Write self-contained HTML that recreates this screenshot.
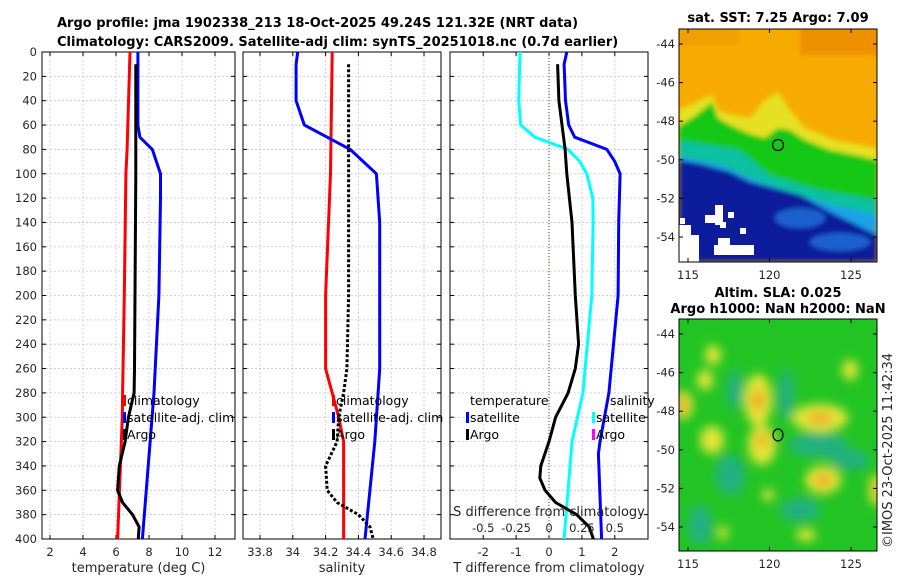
<!DOCTYPE html>
<html><head><meta charset="utf-8"><style>
html,body{margin:0;padding:0;background:#fff;}
svg{display:block;font-family:"DejaVu Sans","Liberation Sans",sans-serif;}
.tk{font-size:11.5px;fill:#262626;}
.ttl{font-size:13px;font-weight:bold;fill:#000;}
.lg{font-size:12.5px;fill:#000;}
.at{font-size:13px;fill:#262626;}
</style></head><body>
<svg id="fig" width="900" height="580" viewBox="0 0 900 580">
<g id="titles">
<text class="ttl" x="57" y="27">Argo profile: jma 1902338_213 18-Oct-2025 49.24S 121.32E (NRT data)</text>
<text class="ttl" x="57" y="46">Climatology: CARS2009. Satellite-adj clim: synTS_20251018.nc (0.7d earlier)</text>
</g>
<g id="panels"></g>
<defs>
<filter id="bl" x="-5%" y="-5%" width="110%" height="110%"><feGaussianBlur stdDeviation="2.5"/></filter>
<filter id="bl2" x="-20%" y="-20%" width="140%" height="140%"><feGaussianBlur stdDeviation="5"/></filter>
<clipPath id="c1"><rect x="679" y="29" width="198" height="233"/></clipPath>
<clipPath id="c2"><rect x="679" y="319" width="198" height="232"/></clipPath>
</defs>
<g id="sst-map">
<text class="ttl" x="778" y="22" text-anchor="middle">sat. SST: 7.25 Argo: 7.09</text>
<g clip-path="url(#c1)">
<rect x="679" y="29" width="198" height="233" fill="#f7ab00"/>
<g filter="url(#bl)">
<rect x="800" y="25" width="90" height="30" fill="#ee9000"/>
<rect x="679" y="25" width="60" height="20" fill="#f0a000"/>
<polygon points="679,110 700,100 712,95 720,112 735,115 750,118 765,100 778,92 790,110 805,128 835,140 877,148 877,262 679,262" fill="#e6e020"/>
<polygon points="679,126 695,116 712,102 718,118 732,126 750,134 765,138 778,128 790,130 805,140 830,150 860,156 877,160 877,262 679,262" fill="#18c818"/>
<polygon points="679,140 740,150 770,175 820,190 877,200 877,262 679,262" fill="#10c0a0"/>
<polygon points="679,156 720,165 760,182 830,205 877,215 877,262 679,262" fill="#1aa0e8"/>
<polygon points="679,160 700,164 730,172 750,182 800,195 830,212 877,235 877,262 679,262" fill="#0a1a9a"/>
<ellipse cx="800" cy="218" rx="25" ry="10" fill="#1e60d0"/>
<ellipse cx="840" cy="242" rx="30" ry="9" fill="#1e60d0"/>
</g>
<g fill="#fff">
<rect x="679" y="225" width="12" height="37"/><rect x="691" y="235" width="8" height="27"/>
<rect x="715" y="205" width="8" height="20"/><rect x="705" y="215" width="14" height="8"/>
<rect x="728" y="212" width="6" height="6"/><rect x="720" y="222" width="6" height="6"/>
<rect x="714" y="245" width="40" height="10"/><rect x="718" y="238" width="12" height="8"/>
<rect x="740" y="228" width="6" height="6"/><rect x="680" y="218" width="5" height="6"/>
</g>
</g>
<rect x="679" y="29" width="198" height="233" fill="none" stroke="#000" stroke-width="1"/>
<circle cx="778" cy="145" r="5.5" fill="none" stroke="#000" stroke-width="1.2"/>
<g id="sstax"></g>
</g>
<g id="sla-map">
<text class="ttl" x="778" y="297" text-anchor="middle">Altim. SLA: 0.025</text>
<text class="ttl" x="778" y="313" text-anchor="middle">Argo h1000: NaN h2000: NaN</text>
<g clip-path="url(#c2)">
<rect x="679" y="319" width="198" height="232" fill="#22c424"/>
<g filter="url(#bl2)">
<g fill="#20b080">
<ellipse cx="786" cy="395" rx="8" ry="25"/><ellipse cx="818" cy="445" rx="30" ry="12"/>
<ellipse cx="800" cy="510" rx="20" ry="12"/><ellipse cx="730" cy="475" rx="15" ry="20"/>
<ellipse cx="850" cy="460" rx="20" ry="10"/><ellipse cx="700" cy="525" rx="12" ry="20"/>
<ellipse cx="735" cy="390" rx="8" ry="20"/>
</g>
<g fill="#e4e436">
<ellipse cx="758" cy="400" rx="14" ry="26"/><ellipse cx="762" cy="445" rx="14" ry="20"/>
<ellipse cx="683" cy="405" rx="10" ry="14"/><ellipse cx="713" cy="355" rx="8" ry="10"/>
<ellipse cx="712" cy="440" rx="12" ry="14"/><ellipse cx="820" cy="418" rx="28" ry="14"/>
<ellipse cx="823" cy="480" rx="18" ry="14"/><ellipse cx="877" cy="490" rx="8" ry="16"/>
<ellipse cx="806" cy="535" rx="10" ry="6"/><ellipse cx="723" cy="533" rx="5" ry="7"/>
<ellipse cx="768" cy="495" rx="6" ry="6"/><ellipse cx="705" cy="380" rx="8" ry="10"/>
<ellipse cx="850" cy="370" rx="8" ry="10"/>
</g>
<g fill="#f0a030">
<ellipse cx="758" cy="400" rx="6" ry="10"/><ellipse cx="762" cy="440" rx="5" ry="7"/>
<ellipse cx="682" cy="405" rx="5" ry="8"/><ellipse cx="820" cy="418" rx="12" ry="5"/>
<ellipse cx="823" cy="480" rx="8" ry="6"/><ellipse cx="877" cy="490" rx="4" ry="8"/>
</g>
</g>
</g>
<rect x="679" y="319" width="198" height="232" fill="none" stroke="#000" stroke-width="1"/>
<ellipse cx="778" cy="435" rx="5" ry="6" fill="none" stroke="#000" stroke-width="1.2"/>
<g id="slaax"></g>
</g>
<text class="at" x="0" y="0" transform="translate(892,548) rotate(-90)">©IMOS 23-Oct-2025 11:42:34</text>
<script>
// ---- data ----
const tickDepths=[0,20,40,60,80,100,120,140,160,180,200,220,240,260,280,300,320,340,360,380,400];
const tempTicks=[2,4,6,8,10,12];
const salTicks=[33.8,34,34.2,34.4,34.6,34.8];
const salTickLabels=["33.8","34","34.2","34.4","34.6","34.8"];
const diffTicks=[-2,-1,0,1,2];
const sDiffTicks=[-0.5,-0.25,0,0.25,0.5];
const sDiffLabels=["-0.5","-0.25","0","0.25","0.5"];
// temperature panel
const tClimDepth=[0,80,100,200,280,300,400];
const tClimVal=[6.85,6.67,6.6,6.5,6.4,6.38,6.1];
const tSatDepth=[0,60,70,80,100,120,200,280,400];
const tSatVal=[7.33,7.33,7.45,8.2,8.7,8.7,8.6,8.3,7.6];
const tArgoDepth=[10,100,200,260,280,300,320,340,360,370,380,390,400];
const tArgoVal=[7.2,7.2,7.15,7.12,7.1,6.75,6.55,6.2,6.1,6.4,7.0,7.4,7.35];
// salinity panel
const sClimDepth=[0,100,200,260,280,300,320,400];
const sClimVal=[34.24,34.23,34.2,34.2,34.24,34.28,34.31,34.31];
const sSatDepth=[0,10,40,60,80,100,140,260,280,320,400];
const sSatVal=[34.03,34.02,34.02,34.07,34.35,34.51,34.53,34.53,34.52,34.5,34.44];
const sArgoDepth=[10,100,200,260,280,300,320,340,360,370,380,390,400];
const sArgoVal=[34.34,34.34,34.34,34.33,34.31,34.28,34.27,34.2,34.21,34.27,34.4,34.47,34.49];
// difference panel
const dTSatDepth=[0,10,40,60,70,80,90,100,140,200,280,320,330,400];
const dTSatVal=[0.54,0.46,0.5,0.6,0.78,1.76,2.0,2.16,2.12,2.1,1.82,1.55,1.5,1.6];
const dSSatDepth=[0,40,60,70,80,90,100,120,140,200,280,320,400];
const dSSatVal=[-0.88,-0.92,-0.86,-0.43,0.58,0.94,1.15,1.33,1.34,1.3,1.03,0.7,0.46];
const dTArgoDepth=[10,40,80,100,140,200,240,260,280,300,320,340,350,360,370,380,390,400];
const dTArgoVal=[0.26,0.3,0.49,0.54,0.7,0.8,0.9,0.8,0.58,0.2,0.0,-0.25,-0.28,-0.12,0.2,0.84,1.22,1.35];

// ---- scales ----
const Y=d=>52+d*487/400;
const XT=v=>50+(v-2)*16.5;
const XS=v=>260+(v-33.8)*164;
const XD=v=>549+v*32.9;
const XSD=v=>549+v*4*32.9;
const NS="http://www.w3.org/2000/svg";
const root=document.getElementById('panels');
function mk(tag,attrs,parent){const e=document.createElementNS(NS,tag);for(const k in attrs)e.setAttribute(k,attrs[k]);(parent||root).appendChild(e);return e;}
function txt(s,attrs,parent){const e=mk('text',attrs,parent);e.textContent=s;return e;}

function panel(name,x0,x1,xs,ticks,labels,xlabel,showY){
  const g=mk('g',{});
  
  
  for(const d of tickDepths){
    const l=mk('line',{x1:x0,x2:x1,y1:Y(d),y2:Y(d),stroke:'#c4c4e8','stroke-width':0.8,'stroke-dasharray':'2,2'},g);
    
    
    mk('line',{x1:x0,x2:x0+4,y1:Y(d),y2:Y(d),stroke:'#000'},g);
    mk('line',{x1:x1-4,x2:x1,y1:Y(d),y2:Y(d),stroke:'#000'},g);
    if(showY){const t=txt(String(d),{class:'tk',x:x0-5,y:Y(d)+4,'text-anchor':'end'},g);
      
      }
  }
  ticks.forEach((v,i)=>{
    const x=xs(v);
    const l=mk('line',{x1:x,x2:x,y1:52,y2:539,stroke:'#c4c4e8','stroke-width':0.8,'stroke-dasharray':'2,2'},g);
    
    
    mk('line',{x1:x,x2:x,y1:539,y2:535,stroke:'#000'},g);
    mk('line',{x1:x,x2:x,y1:52,y2:56,stroke:'#000'},g);
    const t=txt(labels[i],{class:'tk',x:x,y:556,'text-anchor':'middle'},g);
    
    
  });
  const b=mk('rect',{x:x0,y:52,width:x1-x0,height:487,fill:'none',stroke:'#000','stroke-width':1},g);
  
  
  const xl=txt(xlabel,{class:'at',x:(x0+x1)/2,y:572,'text-anchor':'middle'},g);
  
  
  return g;
}
function series(g,name,depths,vals,xs,color,dash){
  const p=depths.map((d,i)=>(i?'L':'M')+xs(vals[i]).toFixed(1)+','+Y(d).toFixed(1)).join('');
  const a={d:p,fill:'none',stroke:color,'stroke-width':3,'stroke-linejoin':'round'};
  if(dash)a['stroke-dasharray']=dash;
  const e=mk('path',a,g);
  
  
}
function leg(g,name,x,y,color,label){
  const r=mk('rect',{x:x-4,y:y-10,width:3,height:11,fill:color},g);
  const t=txt(label,{class:'lg',x:x,y:y},g);
  
  
}

const p1=panel('temperature-panel',42,235,XT,tempTicks,tempTicks.map(String),'temperature (deg C)',true);
series(p1,'temp-climatology-line',tClimDepth,tClimVal,XT,'#f00');
series(p1,'temp-satellite-line',tSatDepth,tSatVal,XT,'#00f');
series(p1,'temp-argo-line',tArgoDepth,tArgoVal,XT,'#000');
leg(p1,'legend-climatology',127,405,'#f00','climatology');
leg(p1,'legend-satellite-adj',127,422,'#00f','satellite-adj. clim');
leg(p1,'legend-argo',127,439,'#000','Argo');

const p2=panel('salinity-panel',243,441,XS,salTicks,salTickLabels,'salinity',false);
series(p2,'sal-climatology-line',sClimDepth,sClimVal,XS,'#f00');
series(p2,'sal-satellite-line',sSatDepth,sSatVal,XS,'#00f');
series(p2,'sal-argo-line',sArgoDepth,sArgoVal,XS,'#000','3,2');
leg(p2,'legend-climatology',336,405,'#f00','climatology');
leg(p2,'legend-satellite-adj',336,422,'#00f','satellite-adj. clim');
leg(p2,'legend-argo',336,439,'#000','Argo');

const p3=panel('difference-panel',450,648,XD,diffTicks,diffTicks.map(String),'T difference from climatology',false);
const z=mk('line',{x1:XD(0),x2:XD(0),y1:52,y2:539,stroke:'#6b6b2a','stroke-width':1.2,'stroke-dasharray':'1,2'},p3);


series(p3,'sal-diff-satellite-line',dSSatDepth,dSSatVal,XD,'#0ff');
series(p3,'temp-diff-satellite-line',dTSatDepth,dTSatVal,XD,'#00f');
series(p3,'temp-diff-argo-line',dTArgoDepth,dTArgoVal,XD,'#000');
txt('temperature',{class:'lg',x:470,y:405},p3);
txt('salinity',{class:'lg',x:610,y:405},p3);
leg(p3,'legend-temp-satellite',470,422,'#00f','satellite');
leg(p3,'legend-temp-argo',470,439,'#000','Argo');
leg(p3,'legend-sal-satellite',596,422,'#0ff','satellite');
leg(p3,'legend-sal-argo',596,439,'#f0f','Argo');
const st=txt('S difference from climatology',{class:'at',x:549,y:516,'text-anchor':'middle'},p3);


sDiffTicks.forEach((v,i)=>{
  const t=txt(sDiffLabels[i],{class:'tk',x:XSD(v),y:532,'text-anchor':'middle'},p3);
  
  
});

// map axes
const lats=[-44,-46,-48,-50,-52,-54];
const lons=[115,120,125];
function mapAxes(id,top,bot,lat0){
  const g=document.getElementById(id);
  lats.forEach(l=>{
    const y=lat0+(-44-l)*19.3;
    mk('line',{x1:679,x2:683,y1:y,y2:y,stroke:'#000'},g);
    mk('line',{x1:873,x2:877,y1:y,y2:y,stroke:'#000'},g);
    const t=txt(String(l),{class:'tk',x:675,y:y+4,'text-anchor':'end'},g);
    
    
  });
  lons.forEach(l=>{
    const x=688+(l-115)*16.3;
    mk('line',{x1:x,x2:x,y1:bot,y2:bot-4,stroke:'#000'},g);
    mk('line',{x1:x,x2:x,y1:top,y2:top+4,stroke:'#000'},g);
    const t=txt(String(l),{class:'tk',x:x,y:bot+17,'text-anchor':'middle'},g);
    
    
  });
}
mapAxes('sstax',29,262,44);
mapAxes('slaax',319,551,334);
</script>
</svg>
</body></html>
